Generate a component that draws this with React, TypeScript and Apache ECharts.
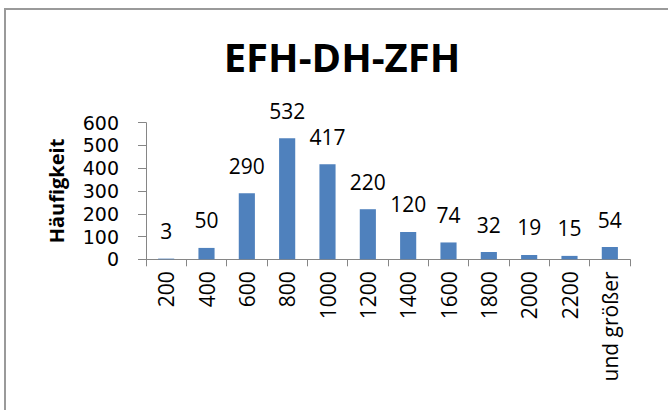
import React, { useEffect, useRef } from "react";
import * as echarts from "echarts";

const categories = ["200", "400", "600", "800", "1000", "1200", "1400", "1600", "1800", "2000", "2200", "und größer"];
const frequencies = [3, 50, 290, 532, 417, 220, 120, 74, 32, 19, 15, 54];
const yTicks = { min: 0, max: 600, interval: 100 };
const titleText = "EFH-DH-ZFH";
const yAxisName = "Häufigkeit";

const FONT = "'Open Sans', sans-serif";
const TICK_FONT = "'DejaVu Sans', sans-serif";

export default function App() {
  const ref = useRef<HTMLDivElement>(null);
  useEffect(() => {
    if (!ref.current) return;
    const chart = echarts.init(ref.current, undefined, { renderer: "svg" });
    chart.setOption({
      animation: false,
      backgroundColor: "#ffffff",
      textStyle: { fontFamily: FONT },
      title: {
        text: titleText,
        left: 337,
        textAlign: "center",
        top: 31,
        textStyle: { fontFamily: FONT, fontWeight: "bold", fontSize: 40, color: "#000" },
      },
      graphic: [
        {
          type: "rect",
          shape: { x: 5, y: 9, width: 700, height: 500 },
          style: { fill: "none", stroke: "#9a9a9a", lineWidth: 2 },
          silent: true,
          z: 100,
        },
      ],
      grid: { left: 146, right: 38, top: 122.7, bottom: 150.7, containLabel: false },
      xAxis: {
        type: "category",
        data: categories,
        axisLine: { show: true, lineStyle: { color: "#868686", width: 1 } },
        axisTick: { show: true, inside: false, length: 7, alignWithLabel: false, lineStyle: { color: "#868686" } },
        axisLabel: {
          rotate: 90,
          interval: 0,
          margin: 12,
          fontFamily: FONT,
          fontSize: 21,
          lineHeight: 18,
          color: "#000",
        },
      },
      yAxis: {
        type: "value",
        min: yTicks.min,
        max: yTicks.max,
        interval: yTicks.interval,
        name: yAxisName,
        nameLocation: "middle",
        nameGap: 80,
        nameTextStyle: { fontFamily: FONT, fontWeight: "bold", fontSize: 20, color: "#000" },
        axisLine: { show: true, lineStyle: { color: "#868686", width: 1 } },
        axisTick: { show: true, inside: false, length: 8, lineStyle: { color: "#868686" } },
        splitLine: { show: false },
        axisLabel: { fontFamily: TICK_FONT, fontSize: 19, lineHeight: 18, color: "#000", margin: 27 },
      },
      series: [
        {
          type: "bar",
          data: frequencies,
          barWidth: "40%",
          itemStyle: { color: "#4F81BD" },
          label: {
            show: true,
            position: "top",
            distance: 17,
            fontFamily: FONT,
            fontSize: 21,
            color: "#000",
          },
        },
      ],
    });
    return () => chart.dispose();
  }, []);
  return (
    <div
      ref={ref}
      style={{ position: "absolute", left: 0, top: 0, width: 668, height: 410 }}
    />
  );
}
